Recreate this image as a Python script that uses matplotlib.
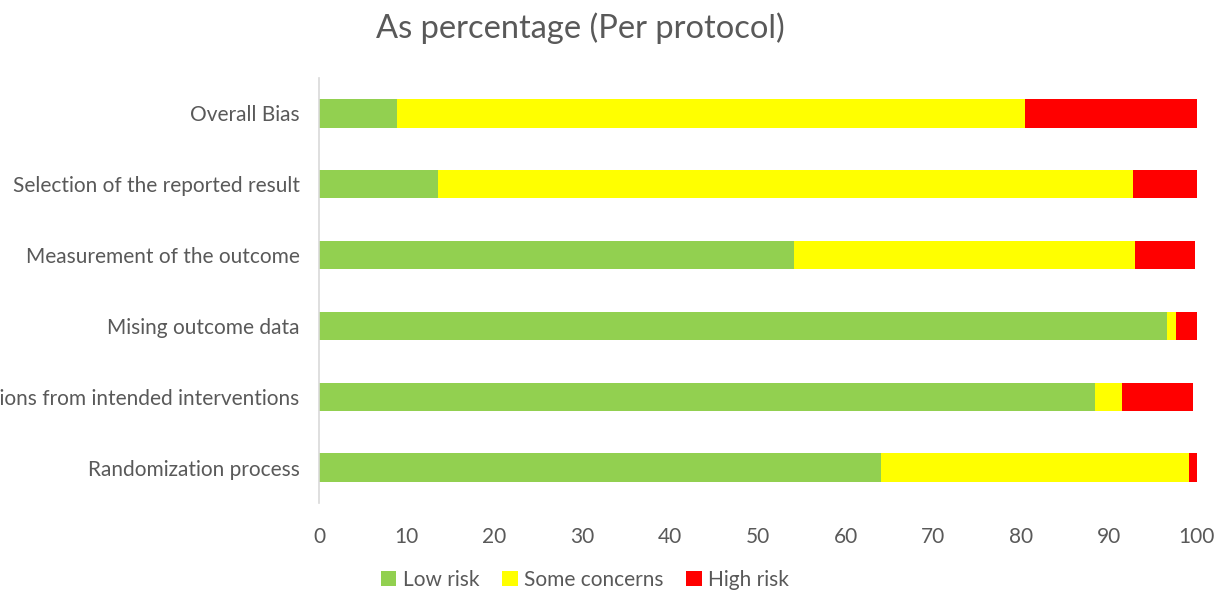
import numpy as np
import matplotlib.pyplot as plt

plt.rcParams['font.family'] = ['Lato', 'DejaVu Sans']

# Risk-of-bias domains, bottom to top
domains = [
    'Randomization process',
    'Deviations from intended interventions',
    'Mising outcome data',
    'Measurement of the outcome',
    'Selection of the reported result',
    'Overall Bias',
]
low_risk = [64.0, 88.4, 96.6, 54.1, 13.6, 8.9]
some_concerns = [35.1, 3.1, 1.1, 38.9, 79.2, 71.6]
high_risk = [0.9, 8.1, 2.3, 6.85, 7.2, 19.5]

series = [
    ('Low risk', low_risk, '#92D050'),
    ('Some concerns', some_concerns, '#FFFF00'),
    ('High risk', high_risk, '#FF0000'),
]

text_color = '#595959'

fig = plt.figure(figsize=(12.26, 5.93), dpi=100)
ax = fig.add_axes([0.2602, 0.1518, 0.976 - 0.2602, 0.8685 - 0.1518])

y = np.arange(len(domains))
left = np.zeros(len(domains))
for name, vals, color in series:
    vals = np.array(vals)
    ax.barh(y, vals, left=left, height=0.4, color=color, label=name,
            edgecolor='none')
    left += vals

ax.set_xlim(0, 100)
ax.set_ylim(-0.5, len(domains) - 0.5)
ax.set_xticks(np.arange(0, 101, 10))
ax.set_yticks(y)
ax.set_yticklabels(domains)

for side in ['top', 'right', 'bottom']:
    ax.spines[side].set_visible(False)
ax.spines['left'].set_color('#D9D9D9')
ax.spines['left'].set_linewidth(1.2)

ax.tick_params(axis='x', length=0, pad=17, labelsize=15, labelcolor=text_color)
ax.tick_params(axis='y', length=0, pad=14, labelsize=15, labelcolor=text_color)

fig.text(580 / 1226, 1 - 28 / 593, 'As percentage (Per protocol)',
         ha='center', va='center', fontsize=23.5, color=text_color)

fig.legend(loc='center', bbox_to_anchor=(585 / 1226, 1 - 580 / 593), ncol=3,
           frameon=False, fontsize=15, labelcolor=text_color,
           handlelength=0.75, handleheight=0.75, handletextpad=0.3,
           columnspacing=1.1)

fig.savefig('out.png', dpi=100)
